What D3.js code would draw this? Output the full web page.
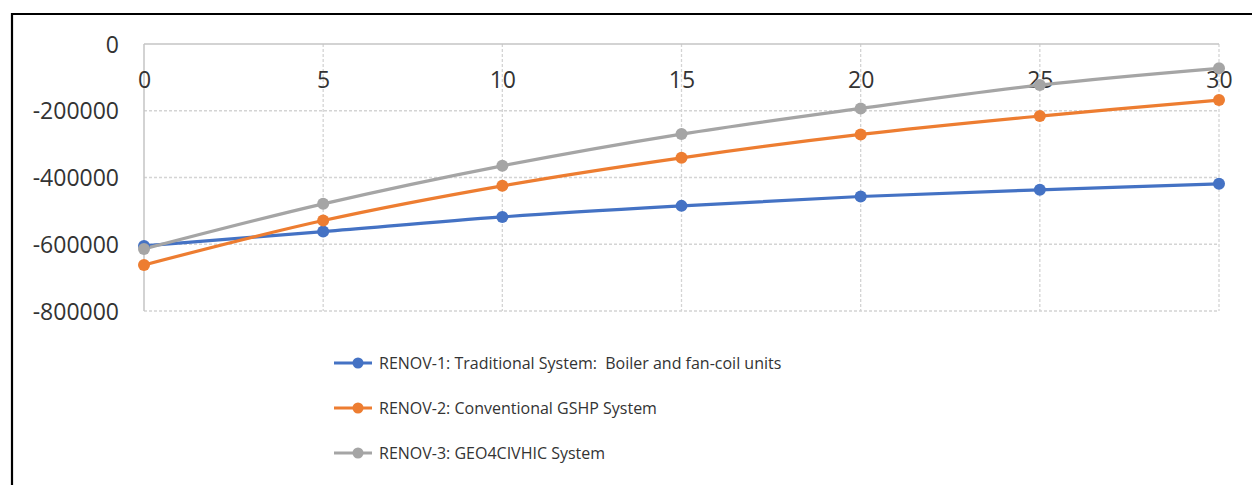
<!DOCTYPE html>
<html>
<head>
<meta charset="utf-8">
<script src="https://cdn.jsdelivr.net/npm/d3@7"></script>
<style>
  html, body { margin: 0; padding: 0; background: #fff; }
  svg { display: block; }
  text { font-family: "Open Sans", "Noto Sans", sans-serif; fill: #333; white-space: pre; }
</style>
</head>
<body>
<svg id="chart" width="1252" height="485"></svg>
<script>
// Years of operation
const years = [0, 5, 10, 15, 20, 25, 30];

// Cumulative cash flow per scenario (EUR)
const renov1 = [-605000, -562000, -518000, -485000, -457000, -437000, -419000];
const renov2 = [-662000, -529000, -425000, -341000, -271000, -216000, -168000];
const renov3 = [-614000, -479000, -365000, -270000, -193000, -123000, -73000];

const seriesNames = [
  "RENOV-1: Traditional System:  Boiler and fan-coil units",
  "RENOV-2: Conventional GSHP System",
  "RENOV-3: GEO4CIVHIC System"
];
const seriesColors = ["#4472C4", "#ED7D31", "#A5A5A5"];

const yTicks = [0, -200000, -400000, -600000, -800000];
const xTicks = [0, 5, 10, 15, 20, 25, 30];

const series = [renov1, renov2, renov3].map((vals, i) => ({
  name: seriesNames[i],
  color: seriesColors[i],
  points: years.map((y, j) => ({ x: y, v: vals[j] }))
}));

const svg = d3.select("#chart");

// Outer frame (left and top edges visible)
svg.append("path")
  .attr("d", "M12,485 L12,14 L1252,14")
  .attr("fill", "none")
  .attr("stroke", "#000")
  .attr("stroke-width", 2.2);

const plot = { left: 144, right: 1219, top: 44, bottom: 311 };

const x = d3.scaleLinear().domain([0, 30]).range([plot.left, plot.right]);
const y = d3.scaleLinear().domain([-800000, 0]).range([plot.bottom, plot.top]);

// Dashed gridlines
const grid = svg.append("g");
grid.selectAll("line.h")
  .data(yTicks.filter(t => t !== 0))
  .join("line")
  .attr("x1", plot.left).attr("x2", plot.right)
  .attr("y1", d => y(d)).attr("y2", d => y(d))
  .attr("stroke", "#d4d4d4").attr("stroke-width", 1.3)
  .attr("stroke-dasharray", "3,2");
grid.selectAll("line.v")
  .data(xTicks.filter(t => t !== 0))
  .join("line")
  .attr("x1", d => x(d)).attr("x2", d => x(d))
  .attr("y1", plot.top).attr("y2", plot.bottom)
  .attr("stroke", "#d4d4d4").attr("stroke-width", 1.3)
  .attr("stroke-dasharray", "3,2");

// Axis lines: value axis at x=0, category axis at y=0
svg.append("line")
  .attr("x1", x(0)).attr("x2", x(0))
  .attr("y1", plot.top).attr("y2", plot.bottom)
  .attr("stroke", "#c4c4c4").attr("stroke-width", 1.5);
svg.append("line")
  .attr("x1", plot.left).attr("x2", plot.right)
  .attr("y1", y(0)).attr("y2", y(0))
  .attr("stroke", "#c4c4c4").attr("stroke-width", 1.5);

// Y axis labels
const yAxis = d3.axisLeft(y).tickValues(yTicks).tickSize(0).tickPadding(0)
  .tickFormat(d => d3.format("d")(d).replace("\u2212", "-"));
const gy = svg.append("g")
  .attr("transform", `translate(119,0)`)
  .call(yAxis);
gy.select(".domain").remove();
gy.selectAll("text")
  .attr("font-size", 23)
  .attr("fill", "#333")
  .attr("dy", "0.35em")
  .attr("font-family", "\"Open Sans\", sans-serif");

// X axis labels just below the zero line
const xAxis = d3.axisBottom(x).tickValues(xTicks).tickSize(0).tickPadding(0);
const gx = svg.append("g")
  .attr("transform", `translate(0,${y(0)})`)
  .call(xAxis);
gx.select(".domain").remove();
gx.selectAll("text")
  .attr("font-size", 23)
  .attr("fill", "#333")
  .attr("y", 36)
  .attr("dy", "0.35em")
  .attr("font-family", "\"Open Sans\", sans-serif");

// Smoothed series lines with markers
const line = d3.line()
  .x(d => x(d.x))
  .y(d => y(d.v))
  .curve(d3.curveCatmullRom.alpha(0.5));

const sg = svg.append("g");
series.forEach(s => {
  sg.append("path")
    .datum(s.points)
    .attr("d", line)
    .attr("fill", "none")
    .attr("stroke", s.color)
    .attr("stroke-width", 3.2)
    .attr("stroke-linejoin", "round");
});
series.forEach(s => {
  sg.selectAll(null)
    .data(s.points)
    .join("circle")
    .attr("cx", d => x(d.x))
    .attr("cy", d => y(d.v))
    .attr("r", 6)
    .attr("fill", s.color);
});

// Legend
const legend = svg.append("g");
const legendY = [363, 408, 453];
series.forEach((s, i) => {
  const g = legend.append("g").attr("transform", `translate(0,${legendY[i]})`);
  g.append("line")
    .attr("x1", 334).attr("x2", 372)
    .attr("stroke", s.color).attr("stroke-width", 3.2);
  g.append("circle").attr("cx", 358).attr("cy", 0).attr("r", 5.5).attr("fill", s.color);
  g.append("text")
    .attr("x", 379).attr("dy", "0.35em")
    .attr("font-size", 16)
    .attr("fill", "#333")
    .text(s.name);
});
</script>
</body>
</html>
